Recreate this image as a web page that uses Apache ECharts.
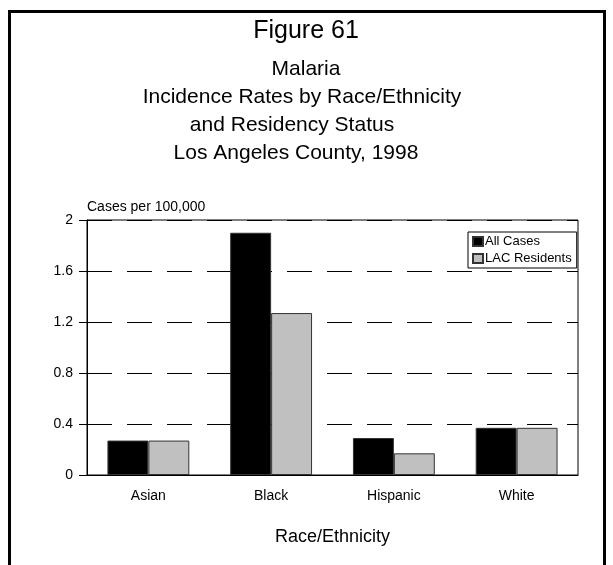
<!DOCTYPE html>
<html>
<head>
<meta charset="utf-8">
<script src="https://cdn.jsdelivr.net/npm/echarts@6/dist/echarts.min.js"></script>
<style>
  html, body { margin: 0; padding: 0; background: #fff; }
  #chart { width: 613px; height: 565px; }
</style>
</head>
<body>
<div id="chart"></div>
<script>
// Malaria incidence rates per 100,000 by race/ethnicity, LA County 1998
const categories = ['Asian', 'Black', 'Hispanic', 'White'];
const allCases = [0.27, 1.9, 0.29, 0.37];
const lacResidents = [0.27, 1.27, 0.17, 0.37];
const seriesNames = ['All Cases', 'LAC Residents'];
const titleLines = [
  'Malaria',
  'Incidence Rates by Race/Ethnicity',
  'and Residency Status',
  'Los Angeles County, 1998'
];
// horizontal centre of each title line (the block is not perfectly centred)
const titleCenters = [306, 302, 292, 296];

const FONT = '"Liberation Sans", Arial, sans-serif';
const chart = echarts.init(document.getElementById('chart'), null, { renderer: 'canvas' });

const subtitleTexts = titleLines.map((t, i) => ({
  type: 'text',
  x: titleCenters[i],
  y: 59 + i * 28,
  style: { text: t, font: '21px ' + FONT, fill: '#000', textAlign: 'center', textVerticalAlign: 'top' }
}));

chart.setOption({
  backgroundColor: '#fff',
  animation: false,
  textStyle: { fontFamily: FONT, color: '#000' },
  grid: { left: 87, top: 220, width: 491, height: 255, show: true, borderColor: '#000', borderWidth: 1, containLabel: false },
  legend: {
    data: seriesNames,
    orient: 'vertical',
    left: 468,
    top: 232,
    backgroundColor: '#fff',
    borderColor: '#000',
    borderWidth: 1,
    padding: [3, 5, 3, 4],
    itemWidth: 10,
    itemHeight: 9,
    itemGap: 4,
    icon: 'rect',
    textStyle: { fontSize: 13, color: '#000', padding: [0, 0, 0, -3] }
  },
  xAxis: {
    type: 'category',
    data: categories,
    axisLine: { lineStyle: { color: '#000', width: 1 } },
    axisTick: { alignWithLabel: true, length: 8, lineStyle: { color: '#000' } },
    axisLabel: { fontSize: 14, color: '#000', margin: 14 },
    name: 'Race/Ethnicity',
    nameLocation: 'middle',
    nameGap: 53,
    nameTextStyle: { fontSize: 18, color: '#000' }
  },
  yAxis: {
    type: 'value',
    min: 0,
    max: 2,
    interval: 0.4,
    axisLine: { show: true, lineStyle: { color: '#000', width: 1 } },
    axisTick: { show: true, length: 8, lineStyle: { color: '#000' } },
    axisLabel: { fontSize: 14, color: '#000', margin: 14 },
    splitLine: { show: true, lineStyle: { color: '#000', width: 1, type: [25, 15] } },
    name: 'Cases per 100,000',
    nameLocation: 'end',
    nameGap: 6,
    nameTextStyle: { fontSize: 14, color: '#000', align: 'left', verticalAlign: 'bottom' }
  },
  series: [
    {
      name: seriesNames[0],
      type: 'bar',
      data: allCases,
      barCategoryGap: '33.3%',
      barGap: '0%',
      itemStyle: { color: '#000', borderColor: '#333', borderWidth: 1 }
    },
    {
      name: seriesNames[1],
      type: 'bar',
      data: lacResidents,
      itemStyle: { color: '#c0c0c0', borderColor: '#333', borderWidth: 1 }
    }
  ],
  graphic: [
    {
      type: 'rect',
      shape: { x: 9.5, y: 11.5, width: 595, height: 600 },
      style: { fill: null, stroke: '#000', lineWidth: 3 },
      silent: true
    },
    {
      type: 'text',
      x: 306,
      y: 19,
      style: { text: 'Figure 61', font: '25px ' + FONT, fill: '#000', textAlign: 'center', textVerticalAlign: 'top' }
    }
  ].concat(subtitleTexts)
});
</script>
</body>
</html>
